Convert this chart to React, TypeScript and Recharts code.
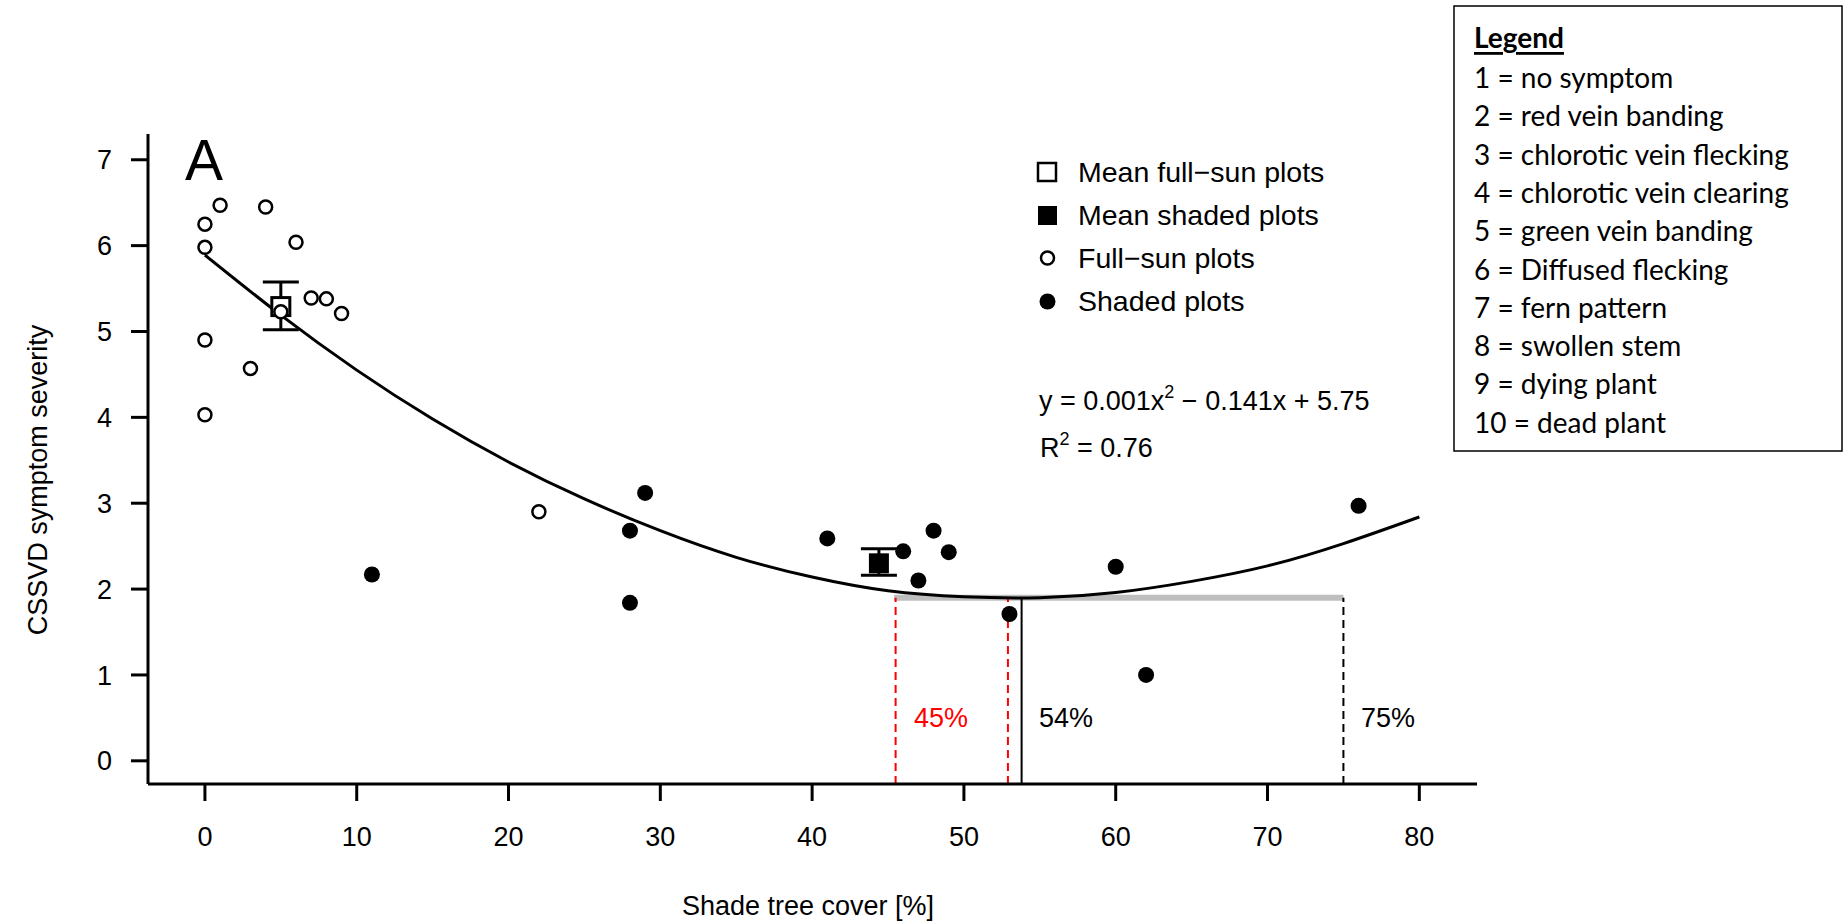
import React from 'react';
import { ComposedChart, Scatter, Line, XAxis, YAxis, ReferenceLine, ErrorBar } from 'recharts';

// individual plots
const fullSunX = [0, 1, 0, 4, 6, 7, 8, 9, 5, 0, 3, 0, 22];
const fullSunY = [6.25, 6.47, 5.98, 6.45, 6.04, 5.39, 5.38, 5.21, 5.23, 4.9, 4.57, 4.03, 2.9];
const shadedX = [11, 28, 28, 29, 41, 46, 47, 48, 49, 53, 60, 62, 76];
const shadedY = [2.17, 1.84, 2.68, 3.12, 2.59, 2.44, 2.1, 2.68, 2.43, 1.71, 2.26, 1.0, 2.97];

// group means with error (down, up)
const meanSun = [{ x: 5, y: 5.29, err: [0.27, 0.285] }];
const meanShade = [{ x: 44.4, y: 2.3, err: [0.14, 0.17] }];

// fitted curve
const curveX = [0, 5, 10, 15, 20, 25, 30, 35, 40, 45, 50, 55, 60, 65, 70, 75, 80];
const curveY = [5.89, 5.19, 4.55, 3.98, 3.48, 3.05, 2.68, 2.37, 2.14, 1.98, 1.91, 1.9, 1.96, 2.09, 2.27, 2.53, 2.84];

// optimum range
const minY = 1.9;
const rangeLow = 45.4;
const redX = [45.5, 52.9];
const optX = 53.8;
const rangeHigh = 75;

const xTicks = [0, 10, 20, 30, 40, 50, 60, 70, 80];
const yTicks = [0, 1, 2, 3, 4, 5, 6, 7];
const xDomain = [-3.75, 83.8];
const yDomain = [-0.27, 7.3];

const symptoms = [
  '1 = no symptom',
  '2 = red vein banding',
  '3 = chlorotic vein flecking',
  '4 = chlorotic vein clearing',
  '5 = green vein banding',
  '6 = Diffused flecking',
  '7 = fern pattern',
  '8 = swollen stem',
  '9 = dying plant',
  '10 = dead plant',
];

const fullSun = fullSunX.map((x, i) => ({ x, y: fullSunY[i] }));
const shaded = shadedX.map((x, i) => ({ x, y: shadedY[i] }));
const curve = curveX.map((x, i) => ({ x, y: curveY[i] }));

const FONT = '"Liberation Sans", Arial, sans-serif';

const OpenDot = (props: any) => (
  <circle cx={props.cx} cy={props.cy} r={6.5} fill="#fff" stroke="#000" strokeWidth={2.5} />
);
const FilledDot = (props: any) => <circle cx={props.cx} cy={props.cy} r={8} fill="#000" />;
const OpenSquare = (props: any) => (
  <rect x={props.cx - 9} y={props.cy - 9} width={18} height={18} fill="#fff" stroke="#000" strokeWidth={3} />
);
const FilledSquare = (props: any) => (
  <rect x={props.cx - 10} y={props.cy - 10} width={20} height={20} fill="#000" />
);

export default function App() {
  return (
    <div style={{ position: 'absolute', left: 0, top: 0, width: 1847, height: 923, background: '#fff' }}>
      <ComposedChart
        width={1847}
        height={923}
        margin={{ top: 134, right: 370, bottom: 0, left: 0 }}
      >
        <XAxis
          type="number"
          dataKey="x"
          domain={xDomain}
          ticks={xTicks}
          allowDataOverflow
          height={139}
          tickSize={17}
          tickMargin={26}
          axisLine={{ stroke: '#000', strokeWidth: 3 }}
          tickLine={{ stroke: '#000', strokeWidth: 3 }}
          tick={{ fill: '#000', fontSize: 27, fontFamily: FONT }}
        />
        <YAxis
          type="number"
          dataKey="y"
          domain={yDomain}
          ticks={yTicks}
          allowDataOverflow
          width={148}
          tickSize={17}
          tickMargin={19}
          axisLine={{ stroke: '#000', strokeWidth: 3 }}
          tickLine={{ stroke: '#000', strokeWidth: 3 }}
          tick={{ fill: '#000', fontSize: 27, fontFamily: FONT }}
        />
        <ReferenceLine
          segment={[{ x: rangeLow, y: minY }, { x: rangeHigh, y: minY }]}
          stroke="#bebebe"
          strokeWidth={6}
        />
        {redX.map((x) => (
          <ReferenceLine
            key={x}
            segment={[{ x, y: yDomain[0] }, { x, y: minY }]}
            stroke="#ff0000"
            strokeWidth={2}
            strokeDasharray="8 5"
          />
        ))}
        <ReferenceLine segment={[{ x: optX, y: yDomain[0] }, { x: optX, y: minY }]} stroke="#000" strokeWidth={2} />
        <ReferenceLine
          segment={[{ x: rangeHigh, y: yDomain[0] }, { x: rangeHigh, y: minY }]}
          stroke="#000"
          strokeWidth={2}
          strokeDasharray="8 5"
        />
        <Line
          data={curve}
          dataKey="y"
          type="natural"
          dot={false}
          stroke="#000"
          strokeWidth={3}
          isAnimationActive={false}
        />
        <Scatter data={meanSun} dataKey="y" shape={<OpenSquare />} isAnimationActive={false}>
          <ErrorBar dataKey="err" direction="y" width={18} stroke="#000" strokeWidth={3} isAnimationActive={false} />
        </Scatter>
        <Scatter data={meanShade} dataKey="y" shape={<FilledSquare />} isAnimationActive={false}>
          <ErrorBar dataKey="err" direction="y" width={18} stroke="#000" strokeWidth={3} isAnimationActive={false} />
        </Scatter>
        <Scatter data={fullSun} dataKey="y" shape={<OpenDot />} isAnimationActive={false} />
        <Scatter data={shaded} dataKey="y" shape={<FilledDot />} isAnimationActive={false} />
      </ComposedChart>

      <svg
        width={1847}
        height={923}
        style={{ position: 'absolute', left: 0, top: 0, pointerEvents: 'none' }}
      >
        <g fontFamily={FONT} fill="#000">
          <text x={204} y={180} fontSize={57} textAnchor="middle">A</text>

          {/* plot legend */}
          <rect x={1038} y={163} width={18} height={18} fill="#fff" stroke="#000" strokeWidth={2.5} />
          <rect x={1038} y={206} width={19} height={19} fill="#000" />
          <circle cx={1047.5} cy={258} r={6.5} fill="#fff" stroke="#000" strokeWidth={2.5} />
          <circle cx={1047.5} cy={301.5} r={8} fill="#000" />
          <g fontSize={28.5}>
            <text x={1078} y={172} dominantBaseline="central">Mean full−sun plots</text>
            <text x={1078} y={215} dominantBaseline="central">Mean shaded plots</text>
            <text x={1078} y={258} dominantBaseline="central">Full−sun plots</text>
            <text x={1078} y={301} dominantBaseline="central">Shaded plots</text>
          </g>

          <text x={1039} y={410} fontSize={27}>
            y = 0.001x<tspan dy={-12} fontSize={18}>2</tspan>
            <tspan dy={12}> − 0.141x + 5.75</tspan>
          </text>
          <text x={1040} y={457} fontSize={27}>
            R<tspan dy={-12} fontSize={18}>2</tspan>
            <tspan dy={12}> = 0.76</tspan>
          </text>

          <text x={941} y={718} fontSize={27} fill="#ff0000" textAnchor="middle" dominantBaseline="central">45%</text>
          <text x={1066} y={718} fontSize={27} textAnchor="middle" dominantBaseline="central">54%</text>
          <text x={1388} y={718} fontSize={27} textAnchor="middle" dominantBaseline="central">75%</text>

          <text x={808} y={906} fontSize={27} textAnchor="middle" dominantBaseline="central">Shade tree cover [%]</text>
          <text
            x={38}
            y={480}
            fontSize={27}
            textAnchor="middle"
            dominantBaseline="central"
            transform="rotate(-90, 38, 480)"
          >
            CSSVD symptom severity
          </text>
        </g>

        {/* symptom scale box */}
        <rect x={1454} y={6} width={388} height={445} fill="#fff" stroke="#000" strokeWidth={1.5} />
        <g fontFamily="Lato, 'Open Sans', sans-serif" fontSize={28} fill="#000">
          <text x={1474} y={37} fontWeight="bold" textDecoration="underline" dominantBaseline="central">
            Legend
          </text>
          {symptoms.map((s, i) => (
            <text key={s} x={1474} y={77 + i * 38.3} dominantBaseline="central">
              {s}
            </text>
          ))}
        </g>
      </svg>
    </div>
  );
}
